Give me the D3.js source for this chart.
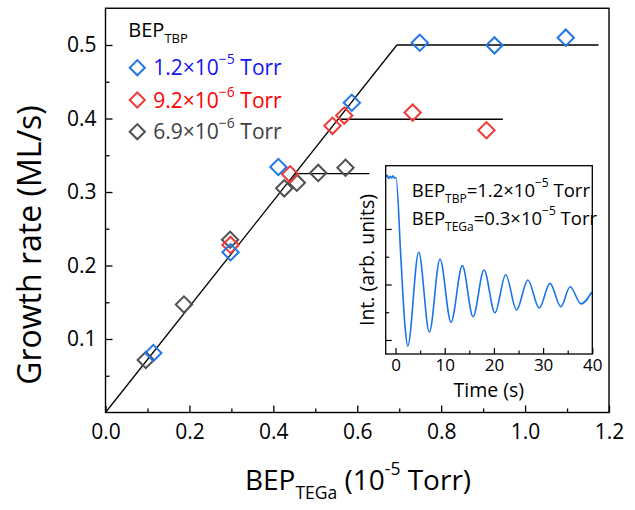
<!DOCTYPE html>
<html><head><meta charset="utf-8">
<script src="https://cdn.jsdelivr.net/npm/d3@7"></script>
<style>body{margin:0;background:#fff} svg{display:block} text{font-family:"Open Sans",sans-serif}</style>
</head><body><svg id="c" width="635" height="510"></svg>
<script>
// ---- data ----
const seriesLabels = ["1.2×10", "9.2×10", "6.9×10"];
const seriesExp = ["−5", "−6", "−6"];
const blueX = [0.114, 0.298, 0.412, 0.587, 0.749, 0.927, 1.097];
const blueY = [0.081, 0.218, 0.334, 0.4215, 0.503, 0.4995, 0.510];
const redX = [0.298, 0.440, 0.541, 0.569, 0.732, 0.908];
const redY = [0.228, 0.324, 0.390, 0.404, 0.408, 0.384];
const grayX = [0.096, 0.187, 0.297, 0.426, 0.456, 0.507, 0.572];
const grayY = [0.0714, 0.147, 0.235, 0.305, 0.3127, 0.326, 0.333];
const fitSlope = 0.72;
const plateauY = [0.5, 0.399, 0.325];
const plateauEnd = [1.175, 0.947, 0.629];
const xTicks = [0, 0.2, 0.4, 0.6, 0.8, 1.0, 1.2];
const xMinor = [0.1, 0.3, 0.5, 0.7, 0.9, 1.1];
const yTicks = [0.1, 0.2, 0.3, 0.4, 0.5];
const yMinor = [0.05, 0.15, 0.25, 0.35, 0.45];
// inset RHEED trace
const rheedT = [-2, -1.7, -1.4, -1.1, -0.8, -0.5, -0.2, 0.1, 1.1, 1.93, 2.48, 4.71, 6.88, 9.04, 11.28, 13.58, 15.75, 17.99, 20.2, 22.4, 24.6, 26.9, 29.2, 31.4, 33.6, 35.5, 37.7, 39.9];
const rheedI = [5.88, 5.93, 5.82, 5.9, 5.84, 5.92, 5.83, 5.85, 2.9, 0.48, -0.22, 3.16, 0.28, 2.92, 0.64, 2.68, 0.84, 2.52, 0.98, 2.35, 1.08, 2.16, 1.15, 2.04, 1.20, 1.92, 1.30, 1.73];
const insetXTicks = [0, 10, 20, 30, 40];
const insetXMinor = [5, 15, 25, 35];
const insetYTicks = [0, 2, 4];
const insetYMinor = [1, 3];

const colors = {blue: "#2277e6", red: "#f03a3a", gray: "#505050"};
const textColors = ["#1414f0", "#ff0000", "#404040"];

const svg = d3.select("#c");
const x = d3.scaleLinear([0, 1.2], [105.5, 609]);
const y = d3.scaleLinear([0, 0.55], [412.5, 8.25]);

function rich(g, tx, ty, parts, size, color, anchor) {
  const t = g.append("text").attr("x", tx).attr("y", ty).attr("font-size", size)
    .attr("fill", color).attr("text-anchor", anchor || "start");
  let cur = 0;
  parts.forEach(p => {
    const fs = p.s ? p.s : size;
    const off = p.k === "sub" ? size * 0.32 : p.k === "sup" ? -size * 0.52 : 0;
    t.append("tspan").attr("dy", off - cur).attr("font-size", fs).text(p.t);
    cur = off;
  });
  return t;
}

// axes
const gx = svg.append("g").attr("transform", "translate(0,412.5)");
gx.call(d3.axisBottom(x).tickValues(xTicks).tickFormat(d3.format(".1f")).tickSize(-7).tickPadding(12));
gx.append("g").call(d3.axisBottom(x).tickValues(xMinor).tickFormat("").tickSize(-4));
const gy = svg.append("g").attr("transform", "translate(105.5,0)");
gy.call(d3.axisLeft(y).tickValues(yTicks).tickFormat(d3.format(".1f")).tickSize(-7).tickPadding(9));
gy.append("g").call(d3.axisLeft(y).tickValues(yMinor).tickFormat("").tickSize(-4));
svg.selectAll(".domain").remove();
svg.selectAll(".tick line").attr("stroke", "#000").attr("stroke-width", 1.3);
svg.selectAll(".tick text").attr("font-size", 21).attr("fill", "#000").attr("font-family", "Open Sans");

svg.append("rect").attr("x", x(0)).attr("y", y(0.55)).attr("width", x(1.2) - x(0)).attr("height", y(0) - y(0.55))
  .attr("fill", "none").attr("stroke", "#000").attr("stroke-width", 1.4);

// fit lines
const line = d3.line().x(d => x(d[0])).y(d => y(d[1]));
svg.append("path").attr("d", line([[0, 0], [plateauY[0] / fitSlope, plateauY[0]]]))
  .attr("stroke", "#000").attr("stroke-width", 1.3).attr("fill", "none");
plateauY.forEach((p, i) => {
  svg.append("path").attr("d", line([[p / fitSlope, p], [plateauEnd[i], p]]))
    .attr("stroke", "#000").attr("stroke-width", 1.3).attr("fill", "none");
});

// markers
const diamond = d3.symbol().type(d3.symbolSquare).size(133)();
function markers(xs, ys, col) {
  svg.append("g").selectAll("path").data(xs).join("path")
    .attr("d", diamond)
    .attr("transform", (d, i) => `translate(${x(d)},${y(ys[i])}) rotate(45)`)
    .attr("fill", "none").attr("stroke", col).attr("stroke-width", 2);
}
markers(grayX, grayY, colors.gray);
markers(redX, redY, colors.red);
markers(blueX, blueY, colors.blue);

// axis titles
rich(svg, 358, 490, [{t: "BEP"}, {t: "TEGa", k: "sub", s: 17.5}, {t: " (10"}, {t: "-5", k: "sup", s: 17.5}, {t: " Torr)"}], 28, "#000", "middle");
svg.append("text").attr("transform", "translate(41,245) rotate(-90)").attr("text-anchor", "middle")
  .attr("font-size", 32).attr("fill", "#000").text("Growth rate (ML/s)");

// legend
rich(svg, 128.3, 36.7, [{t: "BEP"}, {t: "TBP", k: "sub", s: 13}], 20, "#000");
const legCols = [colors.blue, colors.red, colors.gray];
const legDia = d3.symbol().type(d3.symbolSquare).size(115)();
[67.7, 100, 131.7].forEach((cy, i) => {
  svg.append("path").attr("d", legDia).attr("transform", `translate(137.3,${cy}) rotate(45)`)
    .attr("fill", "none").attr("stroke", legCols[i]).attr("stroke-width", 2);
  rich(svg, 153.3, cy + 7.5, [{t: seriesLabels[i]}, {t: seriesExp[i], k: "sup", s: 14}, {t: " Torr"}], 21, textColors[i]);
});

// inset
const xi = d3.scaleLinear([-2, 40], [385.7, 592.3]);
const yi = d3.scaleLinear([-0.505, 6.28], [354, 165.7]);
const ig = svg.append("g");
ig.append("rect").attr("x", 385.7).attr("y", 165.7).attr("width", 592.3 - 385.7).attr("height", 354 - 165.7)
  .attr("fill", "#fff");
const ix = ig.append("g").attr("transform", "translate(0,354)");
ix.call(d3.axisBottom(xi).tickValues(insetXTicks).tickSize(-6).tickPadding(5));
ix.append("g").call(d3.axisBottom(xi).tickValues(insetXMinor).tickFormat("").tickSize(-3.5));
const iy = ig.append("g").attr("transform", "translate(385.7,0)");
iy.call(d3.axisLeft(yi).tickValues(insetYTicks).tickFormat("").tickSize(-6));
iy.append("g").call(d3.axisLeft(yi).tickValues(insetYMinor).tickFormat("").tickSize(-3.5));
ig.selectAll(".domain").remove();
ig.selectAll(".tick line").attr("stroke", "#000").attr("stroke-width", 1.2);
ig.selectAll(".tick text").attr("font-size", 17).attr("fill", "#000").attr("font-family", "Open Sans");
ig.append("path").datum(rheedT)
  .attr("d", d3.line().x(d => xi(d)).y((d, i) => yi(rheedI[i])).curve(d3.curveMonotoneX))
  .attr("fill", "none").attr("stroke", "#1a74e8").attr("stroke-width", 1.6);
ig.append("rect").attr("x", 385.7).attr("y", 165.7).attr("width", 592.3 - 385.7).attr("height", 354 - 165.7)
  .attr("fill", "none").attr("stroke", "#000").attr("stroke-width", 1.3);
ig.append("text").attr("x", 488.8).attr("y", 397).attr("text-anchor", "middle").attr("font-size", 19.5).text("Time (s)");
ig.append("text").attr("transform", "translate(374,260) rotate(-90)").attr("text-anchor", "middle")
  .attr("font-size", 19.5).text("Int. (arb. units)");
rich(ig, 411.7, 196.7, [{t: "BEP"}, {t: "TBP", k: "sub", s: 12}, {t: "=1.2×10"}, {t: "−5", k: "sup", s: 12}, {t: " Torr"}], 18.5, "#000");
rich(ig, 411.7, 225, [{t: "BEP"}, {t: "TEGa", k: "sub", s: 12}, {t: "=0.3×10"}, {t: "−5", k: "sup", s: 12}, {t: " Torr"}], 18.5, "#000");
</script></body></html>
